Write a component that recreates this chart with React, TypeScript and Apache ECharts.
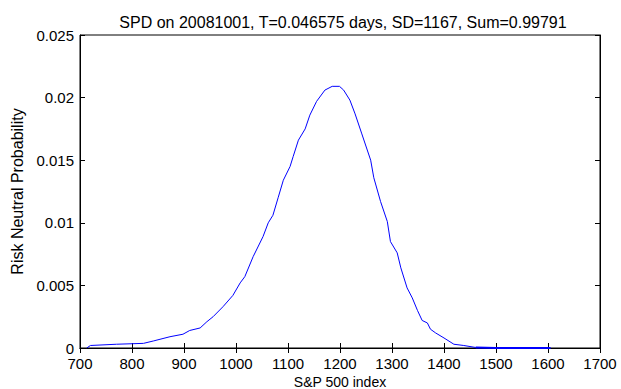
import React, { useEffect, useRef } from "react";
import * as echarts from "echarts";

const titleText = "SPD on 20081001, T=0.046575 days, SD=1167, Sum=0.99791";
const xName = "S&P 500 index";
const yName = "Risk Neutral Probability";

const spdIndex = [713, 720, 770, 822, 841, 873, 898, 911, 931, 944, 956, 975, 994, 1008, 1017, 1033, 1052, 1062, 1071, 1081, 1091, 1104, 1110, 1120, 1133, 1142, 1155, 1171, 1185, 1199, 1207, 1219, 1229, 1242, 1259, 1265, 1278, 1291, 1297, 1310, 1317, 1329, 1339, 1349, 1358, 1368, 1374, 1384, 1400, 1419, 1438, 1461];
const spdProb = [0, 0.0002, 0.0003, 0.00037, 0.00056, 0.0009, 0.0011, 0.0014, 0.0016, 0.0021, 0.0025, 0.0033, 0.0042, 0.0052, 0.0057, 0.0073, 0.0089, 0.0100, 0.0106, 0.0120, 0.0134, 0.0145, 0.0153, 0.0166, 0.0175, 0.0186, 0.0197, 0.0206, 0.0209, 0.0209, 0.0206, 0.0198, 0.0187, 0.0171, 0.0150, 0.0136, 0.0117, 0.0101, 0.0085, 0.0076, 0.0064, 0.0048, 0.0040, 0.0030, 0.0022, 0.0020, 0.0015, 0.0012, 0.0008, 0.0003, 0.0002, 0.00004];
const tailIndex = [1461, 1500, 1605];
const tailProb = [0.00004, 0, 0];

export default function App() {
  const ref = useRef<HTMLDivElement>(null);
  useEffect(() => {
    if (!ref.current) return;
    const chart = echarts.init(ref.current, null, { renderer: "svg" });
    const font = "Liberation Sans, Arial, sans-serif";
    const tickCommon = { inside: true, length: 5, lineStyle: { color: "#000", width: 1 } };
    chart.setOption({
      animation: false,
      backgroundColor: "#fff",
      textStyle: { fontFamily: font },
      title: {
        text: titleText,
        left: 338,
        top: 9,
        textAlign: "center",
        textStyle: { fontSize: 16, fontWeight: "normal", color: "#000", fontFamily: font },
      },
      grid: {
        left: 80,
        right: 21,
        top: 35,
        bottom: 41,
        show: true,
        borderColor: "#000",
        borderWidth: 1,
        outerBoundsMode: "none",
        containLabel: false,
      },
      xAxis: [
        {
          type: "value",
          min: 700,
          max: 1700,
          interval: 100,
          name: xName,
          nameLocation: "middle",
          nameGap: 25,
          nameTextStyle: { fontSize: 14, lineHeight: 14, color: "#000", fontFamily: font },
          axisLine: { show: true, lineStyle: { color: "#000" } },
          axisTick: tickCommon,
          axisLabel: {
            fontSize: 15,
            lineHeight: 14,
            color: "#000",
            margin: 8,
            fontFamily: font,
            formatter: (v: number) => String(v),
          },
          splitLine: { show: false },
        },
        {
          type: "value",
          position: "top",
          min: 700,
          max: 1700,
          interval: 100,
          axisLine: { show: true, lineStyle: { color: "#000" } },
          axisTick: tickCommon,
          axisLabel: { show: false },
          splitLine: { show: false },
        },
      ],
      yAxis: [
        {
          type: "value",
          min: 0,
          max: 0.025,
          interval: 0.005,
          name: yName,
          nameLocation: "middle",
          nameGap: 53,
          nameTextStyle: { fontSize: 16, color: "#000", fontFamily: font },
          axisLine: { show: true, lineStyle: { color: "#000" } },
          axisTick: tickCommon,
          axisLabel: {
            fontSize: 15,
            lineHeight: 14,
            color: "#000",
            margin: 6,
            fontFamily: font,
            formatter: (v: number) => (v === 0 ? "0" : String(Number(v.toFixed(3)))),
          },
          splitLine: { show: false },
        },
        {
          type: "value",
          position: "right",
          min: 0,
          max: 0.025,
          interval: 0.005,
          axisLine: { show: true, lineStyle: { color: "#000" } },
          axisTick: tickCommon,
          axisLabel: { show: false },
          splitLine: { show: false },
        },
      ],
      series: [
        {
          type: "line",
          xAxisIndex: 0,
          yAxisIndex: 0,
          data: spdIndex.map((x, i) => [x, spdProb[i]]),
          showSymbol: false,
          lineStyle: { color: "#0000ff", width: 1 },
          silent: true,
        },
        {
          type: "line",
          xAxisIndex: 0,
          yAxisIndex: 0,
          data: tailIndex.map((x, i) => [x, tailProb[i]]),
          showSymbol: false,
          lineStyle: { color: "#0000ff", width: 2 },
          silent: true,
        },
      ],
    });
    return () => chart.dispose();
  }, []);
  return (
    <div
      ref={ref}
      style={{ position: "fixed", left: 0, top: 0, width: 621, height: 389 }}
    />
  );
}
